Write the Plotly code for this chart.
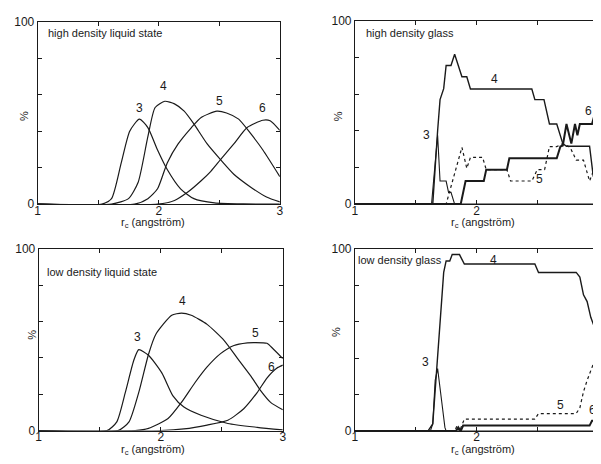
import plotly.graph_objects as go

# ---------------- data ----------------
# high density liquid state
hdl3_x = [1.0, 1.53, 1.61, 1.69, 1.76, 1.84, 1.91, 1.99, 2.07, 2.18, 2.29, 2.46, 2.7, 3.0]
hdl3_y = [0, 0, 3, 22.6, 40, 46.6, 42, 29.7, 19, 8.4, 3, 0.7, 0.1, 0]
hdl4_x = [1.0, 1.61, 1.75, 1.83, 1.91, 1.97, 2.05, 2.13, 2.21, 2.29, 2.40, 2.51, 2.62, 2.76, 2.89, 3.0]
hdl4_y = [0, 0, 3, 12, 37, 53, 56.4, 55, 51, 44, 33, 24.4, 16.4, 9.3, 3.9, 1.2]
hdl5_x = [1.0, 1.80, 1.91, 1.99, 2.07, 2.16, 2.27, 2.35, 2.48, 2.56, 2.66, 2.76, 2.86, 3.0]
hdl5_y = [0, 0, 3, 8.4, 22.6, 33, 42, 47.5, 51, 50, 46.6, 38.6, 29.7, 15.1]
hdl6_x = [1.0, 1.99, 2.13, 2.24, 2.35, 2.43, 2.51, 2.62, 2.73, 2.86, 2.92, 3.0]
hdl6_y = [0, 0, 2, 6.6, 12.8, 18, 24.4, 33, 42, 46, 45.7, 40.4]

# high density glass
hdg3_x = [1.0, 1.63, 1.68, 1.70, 1.75, 1.77, 1.79, 1.82, 3.0]
hdg3_y = [0, 0, 37.5, 12.6, 12.6, 6.4, 6.4, 0, 0]
hdg4_x = [1.0, 1.64, 1.68, 1.70, 1.73, 1.75, 1.79, 1.82, 1.88, 1.92, 1.95, 2.455, 2.48, 2.555,
          2.60, 2.66, 2.71, 2.74, 2.93, 2.96, 3.0]
hdg4_y = [0, 0, 40, 57, 63, 75.6, 75.6, 81.8, 69.5, 69.5, 62.8, 62.8, 57, 57,
          43.7, 43.7, 33, 31.6, 31.6, 15.3, 15.3]
hdg5_x = [1.0, 1.75, 1.88, 1.92, 1.95, 2.05, 2.08, 2.25, 2.28, 2.455, 2.50, 2.56, 2.60, 2.66,
          2.71, 2.77, 2.82, 2.88, 2.93, 2.97, 3.0]
hdg5_y = [0, 0, 31, 19.5, 25.5, 25.5, 18.8, 18.8, 12.6, 12.6, 18.8, 18.8, 31.4, 31.4,
          33, 31, 24, 24, 12.6, 19.7, 16]
hdg6_x = [1.0, 1.87, 1.91, 2.06, 2.08, 2.25, 2.27, 2.66, 2.69, 2.71, 2.74, 2.78, 2.81, 2.83,
          2.85, 2.95, 2.98, 3.0]
hdg6_y = [0, 0, 12.6, 12.6, 18.8, 18.8, 25, 25, 31.4, 32, 43.7, 33, 43.7, 37.5,
          43.7, 43.7, 50.7, 51]

# low density liquid state
ldl3_x = [1.0, 1.56, 1.64, 1.71, 1.78, 1.82, 1.90, 2.01, 2.10, 2.19, 2.33, 2.55, 2.79, 3.0]
ldl3_y = [0, 0, 4.8, 21, 38.8, 44.5, 41.4, 31.6, 19.1, 12.9, 8.4, 3.9, 1.8, 0.4]
ldl4_x = [1.0, 1.65, 1.74, 1.82, 1.90, 1.96, 2.09, 2.17, 2.25, 2.38, 2.52, 2.63, 2.74, 2.82, 2.90, 3.0]
ldl4_y = [0, 0, 4.8, 21, 42, 53, 63.4, 64.6, 63.4, 58.4, 49.5, 39.6, 29.8, 21.8, 15.5, 11.4]
ldl5_x = [1.0, 1.79, 1.90, 2.06, 2.17, 2.28, 2.38, 2.49, 2.60, 2.71, 2.76, 2.87, 2.92, 3.0]
ldl5_y = [0, 0, 1.2, 6.6, 15.5, 26.3, 35, 42.3, 46.8, 48.2, 48.4, 48, 45, 39.6]
ldl6_x = [1.0, 2.0, 2.19, 2.38, 2.55, 2.68, 2.79, 2.87, 2.95, 3.0]
ldl6_y = [0, 0, 0.9, 3, 5.7, 12, 20.9, 28.9, 34.3, 36]

# low density glass
ldg3_x = [1.0, 1.62, 1.64, 1.66, 1.68, 1.71, 1.74, 1.75, 3.0]
ldg3_y = [0, 0, 3.9, 27.8, 34.3, 18, 2, 0, 0]
ldg4_x = [1.0, 1.60, 1.64, 1.73, 1.75, 1.78, 1.80, 1.86, 1.90, 2.48, 2.51, 2.82, 2.85, 2.88,
          2.91, 2.94, 2.98, 3.0]
ldg4_y = [0, 0, 3.9, 87, 93.3, 93.3, 96.8, 96.8, 91.6, 91.6, 87, 87, 84.5, 74.7,
          71, 62.4, 55.3, 54]
ldg5_x = [1.0, 1.82, 1.84, 1.86, 1.90, 2.48, 2.51, 2.82, 2.85, 2.88, 2.91, 2.94, 2.98, 3.0]
ldg5_y = [0, 0, 3, 0, 6.5, 6.5, 9.6, 9.6, 12.7, 21.6, 27.8, 33, 40.2, 41]
ldg6_x = [1.0, 1.83, 1.85, 1.87, 1.89, 2.93, 2.95, 3.0]
ldg6_y = [0, 0, 2, 0, 3, 3, 5.6, 5.6]

panel_titles = ["high density liquid state", "high density glass",
                "low density liquid state", "low density glass"]
curve_names = ["3", "4", "5", "6"]

# curve label positions (x, y) per panel
lab_hdl = [(1.84, 52.6), (2.04, 65), (2.50, 56.4), (2.86, 52.5)]
lab_hdg = [(1.59, 37.9), (2.15, 68), (2.52, 13.6), (2.92, 51)]
lab_ldl = [(1.81, 51.3), (2.18, 71), (2.78, 53.4), (2.91, 35.2)]
lab_ldg = [(1.58, 37.9), (2.14, 94), (2.69, 14.5), (2.95, 11.5)]

x_tickvals = [1, 1.5, 2, 2.5, 3]
x_ticktext = ["1", "", "2", "", "3"]
y_tickvals = [0, 20, 40, 60, 80, 100]
y_ticktext = ["0", "", "", "", "", "100"]

# ---------------- figure ----------------
W, H = 601, 464
OFF = 8  # page body margin compensation
fig = go.Figure()

FONT = "Liberation Sans, Arial, sans-serif"
INK = "#1a1a1a"


def px_x(p):
    return (p - OFF) / W


def px_y(p):
    return 1 - (p - OFF) / H


panels = [
    ("", [(hdl3_x, hdl3_y), (hdl4_x, hdl4_y), (hdl5_x, hdl5_y), (hdl6_x, hdl6_y)], lab_hdl, True,
     (35, 280), (15, 203)),
    ("2", [(hdg3_x, hdg3_y), (hdg4_x, hdg4_y), (hdg5_x, hdg5_y), (hdg6_x, hdg6_y)], lab_hdg, False,
     (356, 602), (14, 203)),
    ("3", [(ldl3_x, ldl3_y), (ldl4_x, ldl4_y), (ldl5_x, ldl5_y), (ldl6_x, ldl6_y)], lab_ldl, True,
     (36, 283), (249, 436.5)),
    ("4", [(ldg3_x, ldg3_y), (ldg4_x, ldg4_y), (ldg5_x, ldg5_y), (ldg6_x, ldg6_y)], lab_ldg, False,
     (356, 602), (249, 437)),
]

annotations = []
for i, (aid, data, labs, smooth, dx, dy) in enumerate(panels):
    xref = "x" + aid
    yref = "y" + aid
    for j, (xs, ys) in enumerate(data):
        if smooth:
            line = dict(color=INK, width=1.2, shape="spline", smoothing=0.6)
        else:
            if j == 0:
                line = dict(color=INK, width=1.1)
            elif j == 1:
                line = dict(color=INK, width=1.4)
            elif j == 2:
                line = dict(color=INK, width=1.2, dash="dot")
            else:
                line = dict(color=INK, width=2.0)
        fig.add_trace(go.Scatter(x=xs, y=ys, mode="lines", line=line,
                                 xaxis=xref, yaxis=yref, showlegend=False,
                                 hoverinfo="skip"))
    for j, (lx, ly) in enumerate(labs):
        annotations.append(dict(x=lx, y=ly, xref=xref, yref=yref, text=curve_names[j],
                                showarrow=False, font=dict(size=12, color=INK, family=FONT)))
    axis_common = dict(showline=True, linecolor=INK, linewidth=1, mirror="ticks",
                       ticks="inside", ticklen=4, tickcolor=INK, tickwidth=1,
                       showgrid=False, zeroline=False,
                       tickfont=dict(size=12, color=INK, family=FONT))
    xa = dict(axis_common, range=[1, 3], tickmode="array", tickvals=x_tickvals,
              ticktext=x_ticktext, domain=[px_x(dx[0]), min(1.0, px_x(dx[1]))], anchor=yref,
              ticklabeloverflow="allow", ticklabelstandoff=-5)
    ya = dict(axis_common, range=[0, 100], tickmode="array", tickvals=y_tickvals,
              ticktext=y_ticktext, domain=[px_y(dy[1]), px_y(dy[0])], anchor=xref)
    fig.layout["xaxis" + aid] = xa
    fig.layout["yaxis" + aid] = ya

    # panel title
    tx = [43, 365, 42, 357][i]
    ty = [27, 27, 273, 261][i]
    annotations.append(dict(x=px_x(tx), y=px_y(ty),
                            xref="paper", yref="paper", text=panel_titles[i],
                            xanchor="left", yanchor="middle", showarrow=False,
                            font=dict(size=11, color=INK, family=FONT)))
    # x-axis title
    cx = [152, 486, 152, 486][i]
    cy = [222, 222, 457, 457][i]
    annotations.append(dict(x=px_x(cx), y=px_y(cy),
                            xref="paper", yref="paper", text="r<sub>c</sub> (angström)",
                            xanchor="center", yanchor="middle", showarrow=False,
                            font=dict(size=11, color=INK, family=FONT)))

# y-axis "%" titles (rotated)
pct_pos = [(13, 105), (339, 105), (21, 345), (337, 342)]
for (px, py) in pct_pos:
    annotations.append(dict(x=px_x(px), y=px_y(py), xref="paper", yref="paper", text="%",
                            textangle=-90, showarrow=False,
                            font=dict(size=11, color=INK, family=FONT)))

fig.update_layout(width=W, height=H, margin=dict(l=0, r=0, t=0, b=0),
                  paper_bgcolor="white", plot_bgcolor="white",
                  annotations=annotations, font=dict(family=FONT, color=INK))

fig.write_html("out.html")
